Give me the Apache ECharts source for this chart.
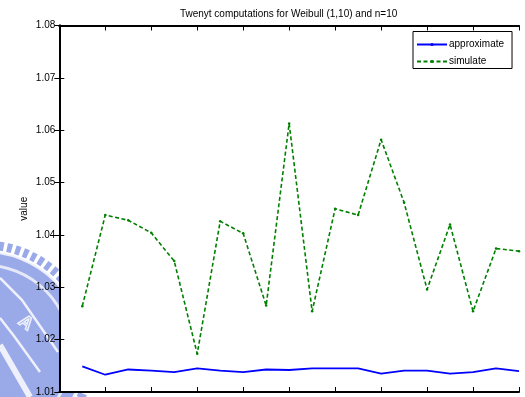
<!DOCTYPE html>
<html>
<head>
<meta charset="utf-8">
<script src="https://cdn.jsdelivr.net/npm/echarts@6/dist/echarts.min.js"></script>
<style>
  html, body { margin: 0; padding: 0; background: #fff; }
  #chart { width: 525px; height: 397px; }
</style>
</head>
<body>
<div id="chart"></div>
<script>
// Twenty runs, each computed by the approximation and by simulation
const runs = [1, 2, 3, 4, 5, 6, 7, 8, 9, 10, 11, 12, 13, 14, 15, 16, 17, 18, 19, 20];
const approximate = [1.0149, 1.0133, 1.0143, 1.0141, 1.0138, 1.0145, 1.0141, 1.0138, 1.0143, 1.0142,
                     1.0145, 1.0145, 1.0145, 1.0135, 1.0141, 1.0141, 1.0135, 1.0138, 1.0145, 1.0140];
const simulate = [1.0264, 1.0438, 1.0428, 1.0404, 1.0350, 1.0173, 1.0426, 1.0403, 1.0265, 1.0613,
                  1.0254, 1.0450, 1.0438, 1.0582, 1.0462, 1.0296, 1.0420, 1.0254, 1.0374, 1.0369];
const seriesNames = ['approximate', 'simulate'];
const titleText = 'Twenyt computations for Weibull (1,10) and n=10';
const yLabel = 'value';
const yTicks = [1.01, 1.02, 1.03, 1.04, 1.05, 1.06, 1.07, 1.08];

const FONT = 'Liberation Sans, Arial, Helvetica, sans-serif';
const pairs = vals => runs.map((r, i) => [r, vals[i]]);

const chart = echarts.init(document.getElementById('chart'), null, { renderer: 'canvas' });

// Faint university seal in the lower-left margin (sits behind the plot box)
const sealBlue = '#9aaae9';
const sealCx = -16, sealCy = 352;
const seal = {
  type: 'group', z: -5, silent: true,
  children: [
    { type: 'circle', z: -5, shape: { cx: sealCx, cy: sealCy, r: 100 },
      style: { fill: sealBlue } },
    { type: 'circle', z: -5, shape: { cx: sealCx, cy: sealCy, r: 107 },
      style: { fill: 'none', stroke: sealBlue, lineWidth: 9, lineDash: [5, 3.5] } },
    { type: 'circle', z: -5, shape: { cx: sealCx, cy: sealCy, r: 100 },
      style: { fill: 'none', stroke: '#eef0fb', lineWidth: 2 } },
    { type: 'circle', z: -5, shape: { cx: sealCx, cy: sealCy, r: 87 },
      style: { fill: 'none', stroke: '#e4e8f8', lineWidth: 3 } },
    { type: 'polyline', z: -5, shape: { points: [[0, 278], [22, 300], [58, 352]] },
      style: { fill: 'none', stroke: '#eef0fb', lineWidth: 2.5 } },
    { type: 'polyline', z: -5, shape: { points: [[0, 318], [14, 336], [40, 372]] },
      style: { fill: 'none', stroke: '#eef0fb', lineWidth: 2.5 } },
    { type: 'polyline', z: -5, shape: { points: [[0, 345], [30, 397]] },
      style: { fill: 'none', stroke: '#eef0fb', lineWidth: 6 } },
    { type: 'text', z: -5, x: 26, y: 312, rotation: -0.65,
      style: { text: 'A', fill: 'none', stroke: '#eef0fb', lineWidth: 1.5, font: 'bold 18px ' + FONT } }
  ]
};

const axisLine = { show: true, lineStyle: { color: '#000', width: 2 } };
const axisTick = { show: true, inside: true, length: 5, lineStyle: { color: '#000', width: 1 } };

chart.setOption({
  animation: false,
  backgroundColor: '#fff',
  graphic: [seal],
  title: {
    text: titleText,
    left: 288.6,
    top: 9,
    textAlign: 'center',
    padding: 0,
    textStyle: { fontFamily: FONT, fontSize: 10, fontWeight: 'normal', color: '#000' }
  },
  legend: {
    data: seriesNames,
    orient: 'vertical',
    left: 413,
    top: 31.5,
    padding: [7, 8, 1, 3],
    itemGap: 5,
    itemWidth: 30,
    itemHeight: 4,
    backgroundColor: '#fff',
    borderColor: '#000',
    borderWidth: 1,
    borderRadius: 0,
    textStyle: { fontFamily: FONT, fontSize: 10, color: '#000', padding: [0, 0, 0, -3], lineHeight: 12 }
  },
  grid: {
    left: 59.3, top: 25.5, right: 6, bottom: 4.7,
    show: true, backgroundColor: '#fff', borderWidth: 0,
    containLabel: false
  },
  xAxis: [
    { type: 'value', min: 0, max: 20, interval: 2, position: 'bottom',
      axisLine, axisTick, axisLabel: { show: false }, splitLine: { show: false } },
    { type: 'value', min: 0, max: 20, interval: 2, position: 'top',
      axisLine, axisTick, axisLabel: { show: false }, splitLine: { show: false } }
  ],
  yAxis: [
    { type: 'value', min: yTicks[0], max: yTicks[yTicks.length - 1], interval: 0.01, position: 'left',
      name: yLabel, nameLocation: 'middle', nameGap: 30, nameRotate: 90, nameMoveOverlap: false,
      nameTextStyle: { fontFamily: FONT, fontSize: 10, color: '#000' },
      axisLine, axisTick,
      axisLabel: { show: true, margin: 4, fontFamily: FONT, fontSize: 10, color: '#000',
                   formatter: v => v.toFixed(2) },
      splitLine: { show: false } },
    { type: 'value', min: yTicks[0], max: yTicks[yTicks.length - 1], interval: 0.01, position: 'right',
      axisLine, axisTick, axisLabel: { show: false }, splitLine: { show: false } }
  ],
  series: [
    { name: seriesNames[0], type: 'line', data: pairs(approximate),
      symbol: 'none', color: '#0000ff',
      lineStyle: { color: '#0000ff', width: 1.8 } },
    { name: seriesNames[1], type: 'line', data: pairs(simulate),
      symbol: 'circle', symbolSize: 2.5, color: '#008000',
      itemStyle: { color: '#008000' },
      lineStyle: { color: '#008000', width: 1.6, type: [4, 2.5] } }
  ]
});
</script>
</body>
</html>
